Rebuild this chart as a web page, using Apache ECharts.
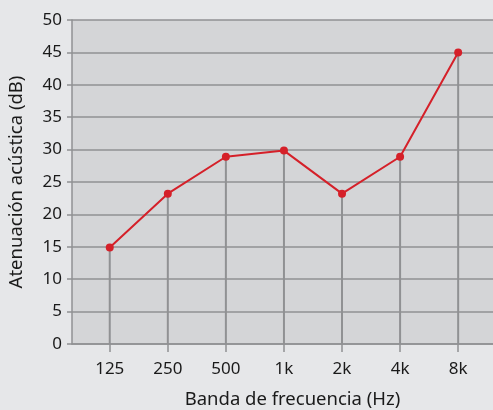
<!DOCTYPE html>
<html>
<head>
<meta charset="utf-8">
<script src="https://cdn.jsdelivr.net/npm/echarts@6/dist/echarts.min.js"></script>
<style>
html,body{margin:0;padding:0;background:#e6e7e9;}
#c{width:493px;height:410px;}
</style>
</head>
<body>
<div id="c"></div>
<script>
const categories = ['125', '250', '500', '1k', '2k', '4k', '8k'];
const values = [14.9, 23.2, 28.9, 29.85, 23.2, 28.9, 45];
const yTicks = [0, 5, 10, 15, 20, 25, 30, 35, 40, 45, 50];
const xTitle = 'Banda de frecuencia (Hz)';
const yTitle = 'Atenuación acústica (dB)';

const idx = categories.map((_, i) => i);
const pts = values.map((v, i) => [i, v]);
const gridColor = '#909193';
const font = 'Noto Sans';

const chart = echarts.init(document.getElementById('c'));
chart.setOption({
  backgroundColor: '#e6e7e9',
  animation: false,
  grid: {left: 72, right: 0, top: 20, bottom: 66, show: true, backgroundColor: '#d4d5d7', borderWidth: 0,
    containLabel: false, outerBoundsMode: 'none'},
  xAxis: {
    type: 'value', min: -0.65, max: 6.6,
    name: xTitle, nameLocation: 'middle', nameGap: 46,
    nameTextStyle: {fontFamily: font, fontSize: 18.5, color: '#1a1a1a', padding: [0, 0, 0, 20]},
    splitLine: {show: false},
    axisLine: {show: true, onZero: false, lineStyle: {color: gridColor, width: 1.5}},
    axisTick: {show: true, customValues: idx, length: 8, lineStyle: {color: gridColor, width: 1.5}},
    axisLabel: {customValues: idx, margin: 17, fontFamily: font, fontSize: 17, color: '#1a1a1a',
      formatter: v => categories[Math.round(v)]}
  },
  yAxis: {
    type: 'value', min: yTicks[0], max: yTicks[yTicks.length - 1], interval: 5,
    name: yTitle, nameLocation: 'middle', nameGap: 46, nameRotate: 90,
    nameTextStyle: {fontFamily: font, fontSize: 18.5, color: '#1a1a1a'},
    axisLine: {show: true, onZero: false, lineStyle: {color: gridColor, width: 1.5}},
    axisTick: {show: true, length: 5, lineStyle: {color: gridColor, width: 1.5}},
    splitLine: {show: true, lineStyle: {color: gridColor, width: 1.5}},
    axisLabel: {margin: 10, fontFamily: font, fontSize: 17, color: '#1a1a1a'}
  },
  series: [
    {type: 'bar', data: pts, barWidth: 2, itemStyle: {color: gridColor}, z: 1, silent: true},
    {type: 'line', data: pts, symbol: 'circle', symbolSize: 8,
      lineStyle: {color: '#d52029', width: 2}, itemStyle: {color: '#d52029'}, z: 3}
  ]
});
</script>
</body>
</html>
